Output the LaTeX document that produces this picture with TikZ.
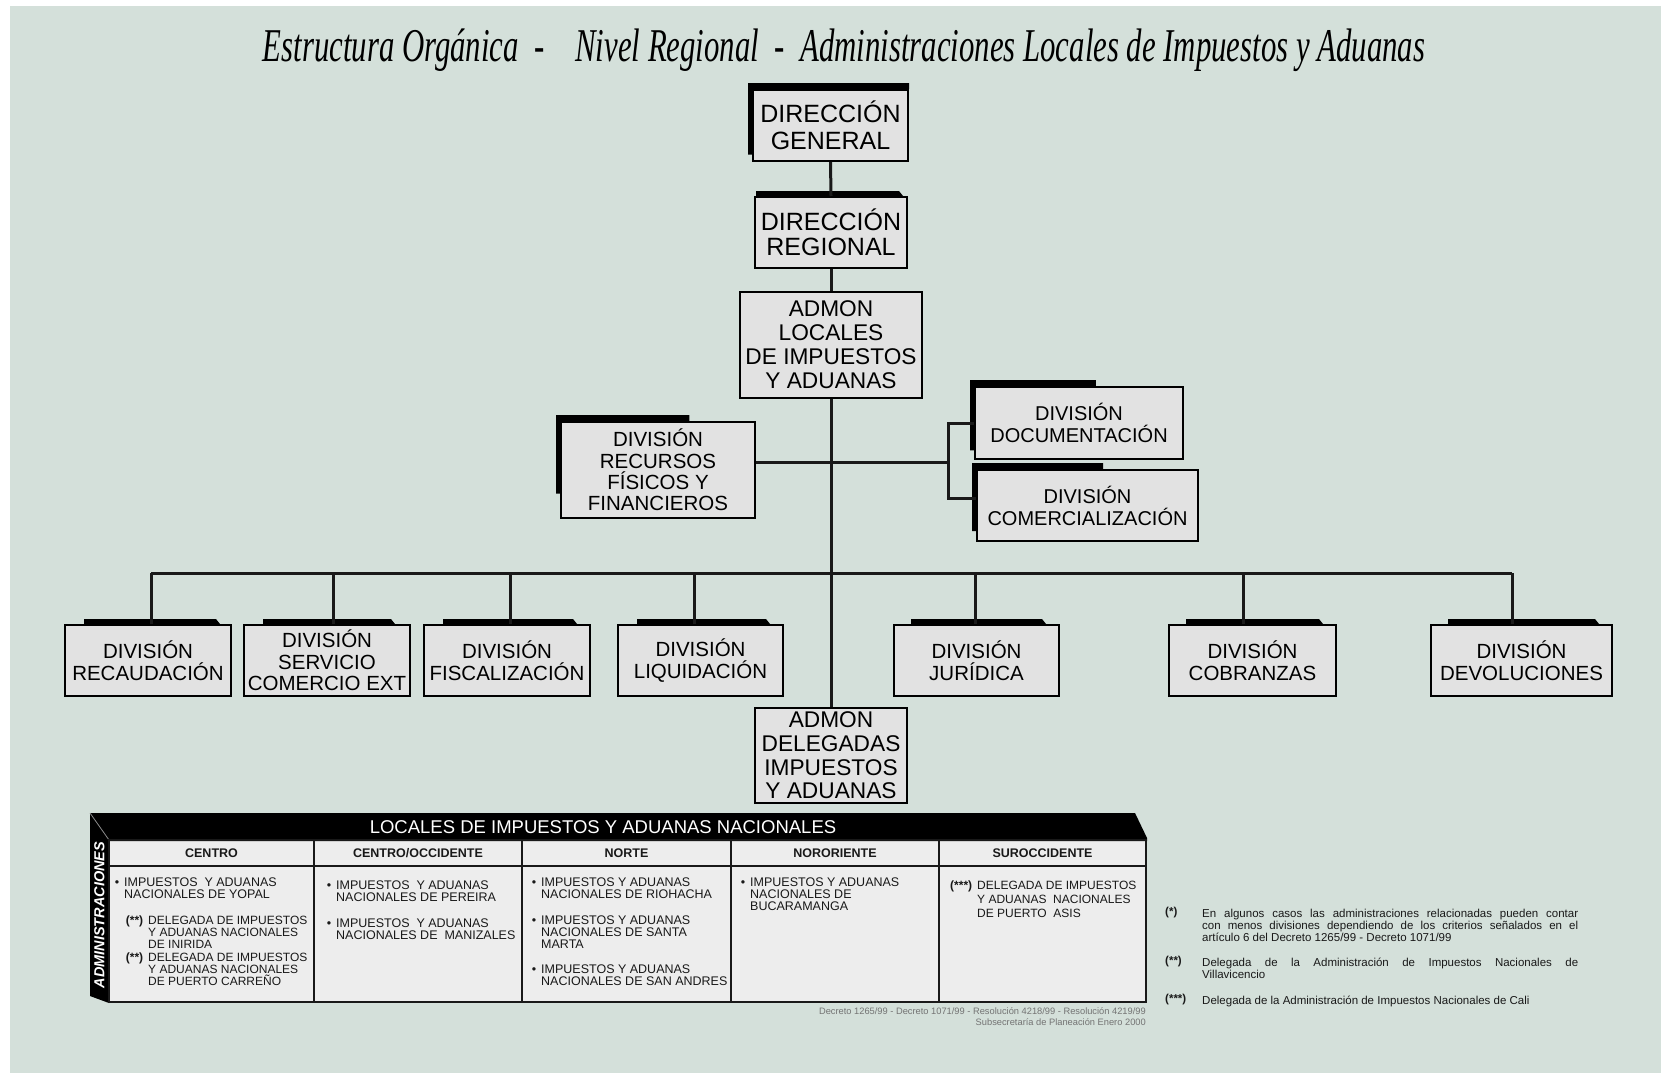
\documentclass[tikz,border=0pt]{standalone}
\usepackage{fontspec}
\usepackage{graphicx}
\setmainfont{Liberation Sans}
\newfontfamily\titlefont{Liberation Serif}
\usetikzlibrary{calc}
\definecolor{panelgreen}{RGB}{212,224,218}
\definecolor{boxgray}{RGB}{226,226,226}
\definecolor{cellgray}{RGB}{237,237,237}
\tikzset{
  orgbox/.style={draw=black, fill=boxgray, line width=2pt, align=center, inner sep=0pt, text=black},
  link/.style={line width=3pt, draw=black!90},
  grid/.style={line width=2.5pt, draw=black!90},
  cellhead/.style={inner sep=0pt, text=black!90, font=\bfseries\fontsize{12.5}{13}\selectfont},
  celltext/.style={anchor=north west, align=left, inner sep=0pt, text=black!90, font=\fontsize{12.5}{12}\selectfont},
  fnmark/.style={anchor=west, inner sep=0pt, text=black!90, font=\bfseries\fontsize{11.5}{12}\selectfont},
  fnotetext/.style={anchor=north west, inner sep=0pt, text width=376pt, align=justify, text=black!90, font=\fontsize{11.5}{12}\selectfont}
}
\newcommand{\cornershadow}[3]{\fill[black] let \p1=(#1.north west), \p2=(#1.south east) in
  (\x1-4pt,\y1+6pt) rectangle ({\x1+#2*(\x2-\x1)},\y1)
  (\x1-4pt,\y1+6pt) rectangle (\x1,{\y1-#3*(\y1-\y2)});}
\newcommand{\barshadow}[3]{\fill[black] let \p1=(#1.north west), \p2=(#1.north east) in
  (\x1+#2,\y1) -- (\x1+#2,\y1+5pt) -- (\x2-#3-4pt,\y1+5pt) -- (\x2-#3,\y1) -- cycle;}
\newcommand{\cellitem}[4]{\node[celltext] (#1) at (#2,#3) {\llap{\textbullet\hspace{5pt}}#4};}
\newcommand{\cellnote}[5]{\node[celltext, font=\fontsize{12}{12}\selectfont] (#1) at (#2,#3) {\llap{\bfseries #4\hspace{5pt}}#5};}

\begin{document}
\begin{tikzpicture}[x=1pt,y=-1pt]
		%%%%% START %%%%%
		\useasboundingbox (0,0) rectangle (1661,1073);
		\fill[white] (0,0) rectangle (1661,1073);
		\fill[panelgreen] (10,6) rectangle (1661,1073);
		
		\node[anchor=base, inner sep=0pt] (title) at (844,62) {\titlefont\itshape\fontsize{47}{47}\selectfont\scalebox{0.655}[1]{Estructura Orgánica\ \ -\quad Nivel Regional\ \ -\ \ Administraciones Locales de Impuestos y Aduanas}};
		
		% upper chain
		\node[orgbox, minimum width=155, minimum height=71, font=\fontsize{25}{27.5}\selectfont] (dirgen) at (830.5,125.5) {DIRECCIÓN\\GENERAL};
		\node[orgbox, minimum width=152, minimum height=71, font=\fontsize{25}{25.5}\selectfont] (dirreg) at (831,232.5) {DIRECCIÓN\\REGIONAL};
		\node[orgbox, minimum width=182, minimum height=106, font=\fontsize{22.7}{24}\selectfont] (admloc) at (831,345) {ADMON\\LOCALES\\DE IMPUESTOS\\Y ADUANAS};
		
		\node[orgbox, minimum width=194, minimum height=96, font=\fontsize{20.5}{21.3}\selectfont] (recfis) at (658,470) {DIVISIÓN\\RECURSOS\\FÍSICOS Y\\FINANCIEROS};
		\node[orgbox, minimum width=208, minimum height=72, font=\fontsize{20}{22}\selectfont] (divdoc) at (1079,423) {DIVISIÓN\\DOCUMENTACIÓN};
		\node[orgbox, minimum width=221, minimum height=71, font=\fontsize{20}{22}\selectfont] (divcom) at (1087.5,505.5) {DIVISIÓN\\COMERCIALIZACIÓN};
		
		% division row
		\node[orgbox, minimum width=166, minimum height=71, font=\fontsize{20.5}{21.5}\selectfont] (divrec) at (148,660.5) {DIVISIÓN\\RECAUDACIÓN};
		\node[orgbox, minimum width=166, minimum height=71, font=\fontsize{20.5}{21.5}\selectfont] (divser) at (327,660.5) {DIVISIÓN\\SERVICIO\\COMERCIO EXT};
		\node[orgbox, minimum width=166, minimum height=71, font=\fontsize{20.5}{21.5}\selectfont] (divfis) at (507,660.5) {DIVISIÓN\\FISCALIZACIÓN};
		\node[orgbox, minimum width=165, minimum height=71, font=\fontsize{20.5}{21.5}\selectfont] (divliq) at (700.5,660.5) {DIVISIÓN\\LIQUIDACIÓN};
		\node[orgbox, minimum width=165, minimum height=71, font=\fontsize{20.5}{21.5}\selectfont] (divjur) at (976.5,660.5) {DIVISIÓN\\JURÍDICA};
		\node[orgbox, minimum width=167, minimum height=71, font=\fontsize{20.5}{21.5}\selectfont] (divcob) at (1252.5,660.5) {DIVISIÓN\\COBRANZAS};
		\node[orgbox, minimum width=181, minimum height=71, font=\fontsize{20.5}{21.5}\selectfont] (divdev) at (1521.5,660.5) {DIVISIÓN\\DEVOLUCIONES};
		
		\node[orgbox, minimum width=152, minimum height=95, font=\fontsize{22.7}{23.7}\selectfont] (admdel) at (831,755.5) {ADMON\\DELEGADAS\\IMPUESTOS\\Y ADUANAS};
		
		% shadows
		\cornershadow{dirgen}{1.0}{0.9}
		\barshadow{dirreg}{2pt}{5pt}
		\cornershadow{recfis}{0.66}{0.74}
		\cornershadow{divdoc}{0.58}{0.87}
		\cornershadow{divcom}{0.57}{0.85}
		\barshadow{divrec}{20pt}{12pt}
		\barshadow{divser}{20pt}{16pt}
		\barshadow{divfis}{20pt}{14pt}
		\barshadow{divliq}{20pt}{14pt}
		\barshadow{divjur}{18pt}{14pt}
		\barshadow{divcob}{18pt}{14pt}
		\barshadow{divdev}{18pt}{14pt}
		
		% connectors
		\coordinate (bus) at (0,573);
		\coordinate (fork) at (948,462);
		\draw[link] (dirgen.south) -- (dirreg.north);
		\draw[link] (dirreg.south) -- (admloc.north);
		\draw[link] (admloc.south) -- (admdel.north);
		\draw[link] (recfis.east |- fork) -- (fork);
		\draw[link] (divdoc.west) -| (fork) |- ([yshift=7.5pt]divcom.west);
		\draw[link] ([xshift=3pt]divrec.north |- bus) -- ([xshift=-9.5pt]divdev.north |- bus);
		\draw[link] ([xshift=3pt]divrec.north) -- ([xshift=3pt]divrec.north |- bus);
		\draw[link] ([xshift=6pt]divser.north) -- ([xshift=6pt]divser.north |- bus);
		\draw[link] ([xshift=3pt]divfis.north) -- ([xshift=3pt]divfis.north |- bus);
		\draw[link] ([xshift=-6.5pt]divliq.north) -- ([xshift=-6.5pt]divliq.north |- bus);
		\draw[link] ([xshift=-1.5pt]divjur.north) -- ([xshift=-1.5pt]divjur.north |- bus);
		\draw[link] ([xshift=-9.5pt]divcob.north) -- ([xshift=-9.5pt]divcob.north |- bus);
		\draw[link] ([xshift=-9.5pt]divdev.north) -- ([xshift=-9.5pt]divdev.north |- bus);
		
		% table of offices
		\fill[cellgray] (109,840) rectangle (1146,1002);
		\fill[black] (90,813) -- (1135,813) -- (1147,838) -- (1147,841) -- (109,841) -- (109,1003) -- (90,996) -- cycle;
		\draw[black!45, line width=0.8pt] (90,813) -- (109,840);
		\draw[grid] (109,840) rectangle (1146,1002);
		\draw[grid] (109,866) -- (1146,866);
		\foreach \cx in {314,522,731,939} \draw[grid] (\cx,840) -- (\cx,1002);
		
		\node[inner sep=0pt, text=white, font=\fontsize{18.5}{19}\selectfont] (tabhead) at (603,827) {LOCALES DE IMPUESTOS Y ADUANAS NACIONALES};
		\node[rotate=90, inner sep=0pt, text=white, font=\bfseries\itshape\fontsize{14.5}{15}\selectfont] (admlabel) at (99.5,915) {ADMINISTRACIONES};
		
		\node[cellhead] (hcentro) at (211.5,853) {CENTRO};
		\node[cellhead] (hcentrocc) at (418,853) {CENTRO/OCCIDENTE};
		\node[cellhead] (hnorte) at (626.5,853) {NORTE};
		\node[cellhead] (hnororiente) at (835,853) {NORORIENTE};
		\node[cellhead] (hsuroccidente) at (1042.5,853) {SUROCCIDENTE};
		
		\cellitem{yopal}{124}{878}{IMPUESTOS\ \ Y ADUANAS\\NACIONALES DE YOPAL}
		\cellnote{inirida}{148}{916}{(**)}{DELEGADA DE IMPUESTOS\\Y ADUANAS NACIONALES\\DE INIRIDA}
		\cellnote{carreno}{148}{953}{(**)}{DELEGADA DE IMPUESTOS\\Y ADUANAS NACIONALES\\DE PUERTO CARREÑO}
		\cellitem{pereira}{336}{881}{IMPUESTOS\ \ Y ADUANAS\\NACIONALES DE PEREIRA}
		\cellitem{manizales}{336}{919}{IMPUESTOS\ \ Y ADUANAS\\NACIONALES DE\ \ MANIZALES}
		\cellitem{riohacha}{541}{878}{IMPUESTOS Y ADUANAS\\NACIONALES DE RIOHACHA}
		\cellitem{santamarta}{541}{916}{IMPUESTOS Y ADUANAS\\NACIONALES DE SANTA\\MARTA}
		\cellitem{sanandres}{541}{965}{IMPUESTOS Y ADUANAS\\NACIONALES DE SAN ANDRES}
		\cellitem{bucaramanga}{750}{878}{IMPUESTOS Y ADUANAS\\NACIONALES DE\\BUCARAMANGA}
		\cellnote{puertoasis}{977}{881}{(***)}{DELEGADA DE IMPUESTOS\\[2pt]Y ADUANAS\ \ NACIONALES\\[2pt]DE PUERTO\ \ ASIS}
		
		\node[anchor=north east, inner sep=0pt, align=right, text=black!55, font=\fontsize{9.3}{11}\selectfont] (source) at (1146,1007) {Decreto 1265/99 - Decreto 1071/99 - Resolución 4218/99 - Resolución 4219/99\\Subsecretaría de Planeación Enero 2000};
		
		% notes
		\node[fnmark] (fn1mark) at (1165,913) {(*)};
		\node[fnotetext] (fn1) at (1202,909) {En algunos casos las administraciones relacionadas pueden contar\linebreak con menos divisiones dependiendo de los criterios señalados en el\linebreak artículo 6 del Decreto 1265/99 - Decreto 1071/99};
		\node[fnmark] (fn2mark) at (1165,962) {(**)};
		\node[fnotetext] (fn2) at (1202,958) {Delegada de la Administración de Impuestos Nacionales de\linebreak Villavicencio};
		\node[fnmark] (fn3mark) at (1165,1000) {(***)};
		\node[fnotetext] (fn3) at (1202,996) {Delegada de la Administración de Impuestos Nacionales de Cali};
		
		%%%%% END %%%%%
\end{tikzpicture}
\end{document}
